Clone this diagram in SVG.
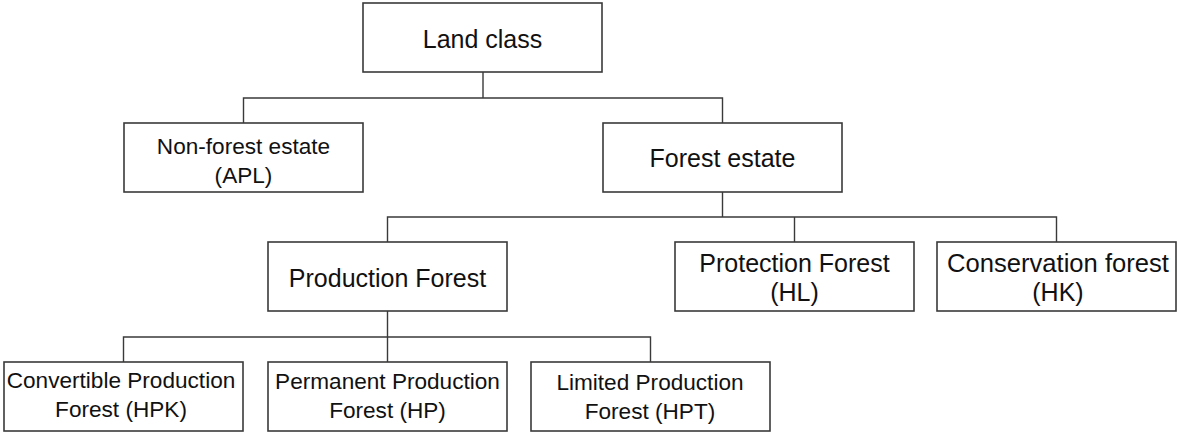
<svg xmlns="http://www.w3.org/2000/svg" width="1177" height="432" viewBox="0 0 1177 432">
  <style>
    .box { fill: #ffffff; stroke: #3a3a3a; stroke-width: 1.6; }
    .lbl { font-family: "Liberation Sans", Arial, sans-serif; font-size: 25px; fill: #111111; text-anchor: middle; }
    .sm { font-size: 22.6px; }
    .wire { fill: none; stroke: #3a3a3a; stroke-width: 1.4; }
  </style>
  <rect width="1177" height="432" fill="#ffffff"/>

  <!-- tree connectors -->
  <g id="connectors">
    <path class="wire" d="M483 72 V98 M243.5 123 V98 H722.5 V123"/>
    <path class="wire" d="M722.5 192 V217 M387.5 242 V217 H1056.5 V242 M794.5 217 V242"/>
    <path class="wire" d="M387.5 311 V337 M123.5 362 V337 H650.5 V362 M387.5 337 V362"/>
  </g>

  <g id="land-class">
    <rect class="box" x="363" y="3" width="239" height="69"/>
    <text class="lbl" x="482.5" y="48">Land class</text>
  </g>

  <g id="non-forest-estate">
    <rect class="box" x="124" y="123" width="239" height="69"/>
    <text class="lbl sm" x="243.5" y="153.5">Non-forest estate</text>
    <text class="lbl sm" x="243.5" y="183">(APL)</text>
  </g>

  <g id="forest-estate">
    <rect class="box" x="603" y="123" width="239" height="69"/>
    <text class="lbl" x="722.5" y="167">Forest estate</text>
  </g>

  <g id="production-forest">
    <rect class="box" x="268" y="242" width="239" height="69"/>
    <text class="lbl" x="387.5" y="286.5">Production Forest</text>
  </g>

  <g id="protection-forest">
    <rect class="box" x="675" y="242" width="239" height="69"/>
    <text class="lbl" x="794.5" y="272">Protection Forest</text>
    <text class="lbl" x="794.5" y="301">(HL)</text>
  </g>

  <g id="conservation-forest">
    <rect class="box" x="937" y="242" width="239" height="69"/>
    <text class="lbl" x="1058" y="272" style="font-size:25.6px">Conservation forest</text>
    <text class="lbl" x="1058" y="301">(HK)</text>
  </g>

  <g id="convertible-production-forest">
    <rect class="box" x="4" y="362" width="239" height="69"/>
    <text class="lbl sm" x="121" y="388">Convertible Production</text>
    <text class="lbl sm" x="121" y="417">Forest (HPK)</text>
  </g>

  <g id="permanent-production-forest">
    <rect class="box" x="268" y="362" width="239" height="69"/>
    <text class="lbl sm" x="387.5" y="389">Permanent Production</text>
    <text class="lbl sm" x="387.5" y="418">Forest (HP)</text>
  </g>

  <g id="limited-production-forest">
    <rect class="box" x="531" y="362" width="239" height="69"/>
    <text class="lbl sm" x="650" y="390">Limited Production</text>
    <text class="lbl sm" x="650" y="418.5">Forest (HPT)</text>
  </g>
</svg>
